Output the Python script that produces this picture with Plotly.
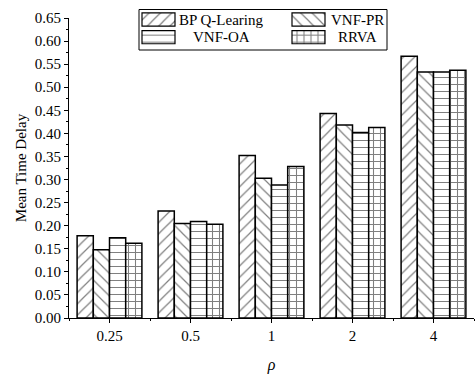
import plotly.graph_objects as go

categories = ["0.25", "0.5", "1", "2", "4"]
series_names = ["BP Q-Learing", "VNF-PR", "VNF-OA", "RRVA"]
bp_q = [0.178, 0.232, 0.352, 0.443, 0.567]
vnf_pr = [0.148, 0.205, 0.303, 0.418, 0.533]
vnf_oa = [0.174, 0.209, 0.288, 0.402, 0.533]
rrva = [0.162, 0.203, 0.328, 0.413, 0.537]
yticks = [round(0.05 * i, 2) for i in range(14)]

# legend layout: (column, row) of each series in the 2x2 legend box
legend_col = [0, 1, 0, 1]
legend_row = [0, 0, 1, 1]
legend_text_offset = [0.42, 0.327]  # text centre offset per column

series = [bp_q, vnf_pr, vnf_oa, rrva]
shapes = ["/", "\\", "-", "+"]
sizes = [8, 8, 7, 7]
solidities = [0.15, 0.15, 0.15, 0.28]

FONT = "Liberation Serif, Times New Roman, serif"
xpos = list(range(len(categories)))

W, H = 475, 374
ML, MR, MT, MB = 69, 1, 9, 56
PW, PH = W - ML - MR, H - MT - MB


def px_x(p):
    return (p - ML) / PW


def px_y(p):
    return 1 - (p - MT) / PH


def pattern(sh, sz, so):
    return dict(shape=sh, size=sz, solidity=so, fgcolor="black",
                bgcolor="white", fillmode="overlay")


fig = go.Figure()
for name, vals, sh, sz, so in zip(series_names, series, shapes, sizes, solidities):
    fig.add_trace(go.Bar(
        x=xpos, y=vals, name=name, showlegend=False,
        marker=dict(color="white", line=dict(color="black", width=1.5),
                    pattern=pattern(sh, sz, so)),
    ))

# legend swatches drawn as bars on an invisible inset axis
for name, c, r, sh, sz, so in zip(series_names, legend_col, legend_row, shapes, sizes, solidities):
    fig.add_trace(go.Bar(
        x=[c], y=[0.74], base=[r - 0.37], width=[0.22], offset=[-0.11],
        showlegend=False, xaxis="x2", yaxis="y2", hoverinfo="skip",
        marker=dict(color="white", line=dict(color="black", width=1.2),
                    pattern=pattern(sh, sz, so)),
    ))
    fig.add_annotation(x=c + legend_text_offset[c], y=r, xref="x2", yref="y2",
                       text=name, showarrow=False, xanchor="center", yanchor="middle",
                       font=dict(family=FONT, size=15, color="black"))

fig.add_shape(type="rect", xref="paper", yref="paper",
              x0=px_x(139), x1=px_x(387), y0=px_y(50), y1=px_y(9.5),
              line=dict(color="black", width=1), fillcolor="rgba(0,0,0,0)")

fig.update_layout(
    width=W, height=H,
    margin=dict(l=ML, r=MR, t=MT, b=MB),
    paper_bgcolor="white", plot_bgcolor="rgba(0,0,0,0)",
    barmode="group", bargap=0.2, bargroupgap=0,
    font=dict(family=FONT, size=15, color="black"),
    showlegend=False,
    xaxis=dict(range=[-0.5, 4.5], tickvals=xpos, ticktext=categories,
               showline=True, linecolor="black", linewidth=1,
               ticks="outside", ticklen=4, tickcolor="black",
               minor=dict(tickvals=[i + 0.5 for i in range(-1, 5)], ticks="outside",
                          ticklen=2, tickcolor="black"),
               showgrid=False, zeroline=False,
               title=dict(text="<i>ρ</i>", standoff=16, font=dict(size=16)),
               tickfont=dict(size=15)),
    yaxis=dict(range=[0, 0.65], tickvals=yticks, tickformat=".2f",
               domain=[0, px_y(18)],
               showline=True, linecolor="black", linewidth=1,
               ticks="outside", ticklen=4, tickcolor="black",
               minor=dict(dtick=0.025, ticks="outside", ticklen=2, tickcolor="black"),
               showgrid=False, zeroline=False,
               title=dict(text="Mean Time Delay", standoff=4, font=dict(size=15)),
               tickfont=dict(size=15)),
    xaxis2=dict(domain=[px_x(83.5), px_x(383.5)], range=[-0.5, 1.5], anchor="y2",
                visible=False, fixedrange=True),
    yaxis2=dict(domain=[px_y(46.05), px_y(10.65)], range=[1.5, -0.5], anchor="x2",
                visible=False, fixedrange=True),
)

fig.write_html("out.html")
